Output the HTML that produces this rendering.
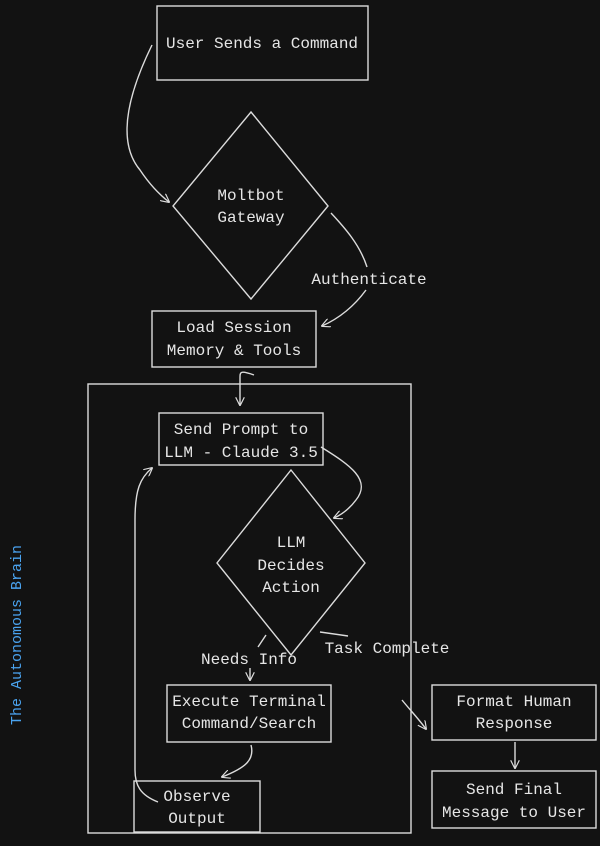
<!DOCTYPE html>
<html><head><meta charset="utf-8"><style>
html,body{margin:0;padding:0;background:#121212;}
svg{display:block}
text{font-family:"Liberation Mono",monospace;font-size:16px;fill:#e6e6e6;text-anchor:middle}
</style></head><body>
<svg width="600" height="846" viewBox="0 0 600 846" xmlns="http://www.w3.org/2000/svg">
<defs><marker id="a" viewBox="0 0 10 10" refX="9" refY="5" markerWidth="9" markerHeight="9" orient="auto-start-reverse" markerUnits="userSpaceOnUse"><path d="M0,0 L10,5 L0,10" fill="none" stroke="#ddd" stroke-width="1.3"/></marker></defs>
<g fill="none" stroke="#dcdcdc" stroke-width="1.4">
<rect x="157" y="6" width="211" height="74"/>
<polygon points="251,112 328,206 251,299 173,206"/>
<rect x="152" y="311" width="164" height="56"/>
<rect x="88" y="384" width="323" height="449"/>
<rect x="159" y="413" width="164" height="52"/>
<polygon points="291,470 365,563 291,655 217,563"/>
<rect x="167" y="685" width="164" height="57"/>
<rect x="134" y="781" width="126" height="51"/>
<rect x="432" y="685" width="164" height="55"/>
<rect x="432" y="771" width="164" height="57"/>
<path d="M152,45 C130,90 115,140 140,170 C150,185 160,195 169,202" marker-end="url(#a)"/>
<path d="M331,213 C345,228 360,245 367,267"/>
<path d="M366,290 C355,305 340,318 322,326" marker-end="url(#a)"/>
<path d="M254,375 C240,370 240,372 240,378 L240,405" marker-end="url(#a)"/>
<path d="M321,447 C350,465 372,480 356,500 C350,508 343,514 334,518" marker-end="url(#a)"/>
<path d="M266,635 L258,647"/>
<path d="M250,668 L250,680" marker-end="url(#a)"/>
<path d="M320,632 L348,636"/>
<path d="M402,700 C410,710 418,718 426,729" marker-end="url(#a)"/>
<path d="M251,745 C255,760 245,768 222,777" marker-end="url(#a)"/>
<path d="M158,802 C140,795 135,785 135,770 L135,520 C135,490 140,478 152,468" marker-end="url(#a)"/>
<path d="M515,742 L515,768" marker-end="url(#a)"/>
</g>
<text x="262" y="48">User Sends a Command</text>
<text x="251" y="200">Moltbot</text>
<text x="251" y="222">Gateway</text>
<text x="369" y="284">Authenticate</text>
<text x="234" y="332">Load Session</text>
<text x="234" y="355">Memory &amp; Tools</text>
<text x="241" y="434">Send Prompt to</text>
<text x="241" y="457">LLM - Claude 3.5</text>
<text x="291" y="547">LLM</text>
<text x="291" y="570">Decides</text>
<text x="291" y="592">Action</text>
<text x="249" y="664">Needs Info</text>
<text x="387" y="653">Task Complete</text>
<text x="249" y="706">Execute Terminal</text>
<text x="249" y="728">Command/Search</text>
<text x="197" y="801">Observe</text>
<text x="197" y="823">Output</text>
<text x="514" y="706">Format Human</text>
<text x="514" y="728">Response</text>
<text x="514" y="794">Send Final</text>
<text x="514" y="817">Message to User</text>
<text x="21" y="635" transform="rotate(-90 21 635)" style="fill:#4aa3ef;font-size:15px">The Autonomous Brain</text>
</svg>
</body></html>
